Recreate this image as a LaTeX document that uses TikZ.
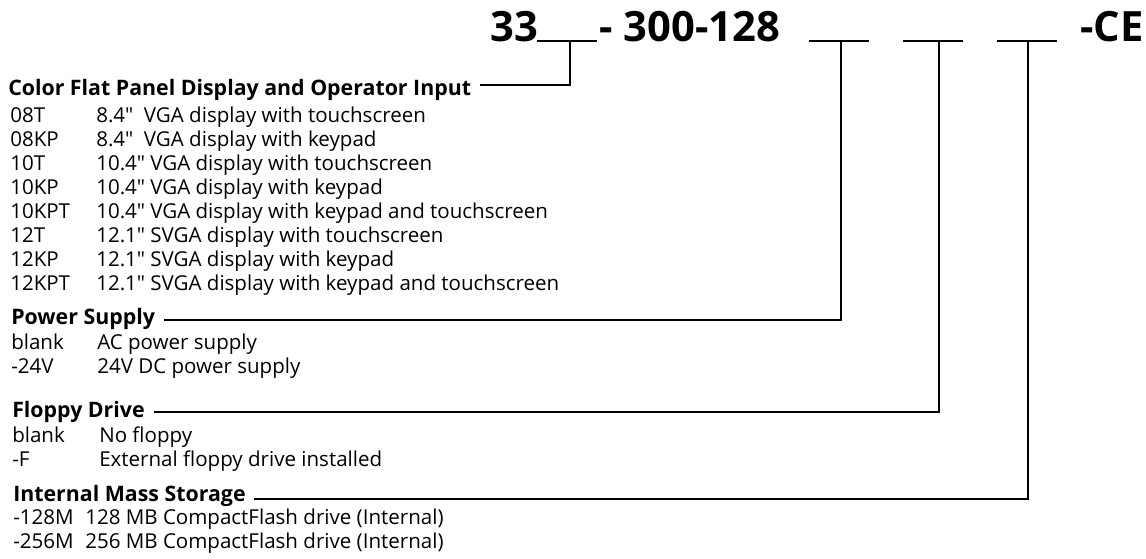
\documentclass[tikz,border=0pt]{standalone}
\usepackage{fontspec}
\setmainfont{Open Sans}
\begin{document}
\begin{tikzpicture}[x=0.75pt,y=-0.75pt,
  lbl/.style={inner sep=0pt, anchor=base west, font=\fontsize{15.4}{18}\selectfont},
  hd/.style={inner sep=0pt, anchor=base west, font=\fontsize{16}{18}\selectfont\bfseries},
  ttl/.style={inner sep=0pt, anchor=base west, font=\fontsize{31.3}{36}\selectfont\bfseries},
  ln/.style={line width=1.5pt, line join=miter}]
\useasboundingbox[fill=white] (0,0) rectangle (1146,559);
% title
\node[ttl] (t33) at (490,42) {33};
\node[ttl] (tmid) at (599,42) {- 300-128};
\node[ttl] (tce) at (1080,42) {-CE};
% blanks
\coordinate (b1w) at (537,41); \coordinate (b1e) at (597,41); \coordinate (b1) at (570,41);
\coordinate (b2w) at (809,41); \coordinate (b2e) at (869,41); \coordinate (b2) at (841,41);
\coordinate (b3w) at (903,41); \coordinate (b3e) at (963,41); \coordinate (b3) at (939,41);
\coordinate (b4w) at (997,41); \coordinate (b4e) at (1057,41); \coordinate (b4) at (1028,41);
\draw[ln] (b1w) -- (b1e);
\draw[ln] (b2w) -- (b2e);
\draw[ln] (b3w) -- (b3e);
\draw[ln] (b4w) -- (b4e);
% section 1
\node[hd] (h1) at (8,96) {Color Flat Panel Display and Operator Input};
\node[lbl] (c11) at (10,123) {08T};   \node[lbl] (d11) at (96,123) {8.4″\ \ VGA display with touchscreen};
\node[lbl] (c12) at (10,147) {08KP};  \node[lbl] (d12) at (96,147) {8.4″\ \ VGA display with keypad};
\node[lbl] (c13) at (10,171) {10T};   \node[lbl] (d13) at (96,171) {10.4″ VGA display with touchscreen};
\node[lbl] (c14) at (10,195) {10KP};  \node[lbl] (d14) at (96,195) {10.4″ VGA display with keypad};
\node[lbl] (c15) at (10,219) {10KPT}; \node[lbl] (d15) at (96,219) {10.4″ VGA display with keypad and touchscreen};
\node[lbl] (c16) at (10,243) {12T};   \node[lbl] (d16) at (96,243) {12.1″ SVGA display with touchscreen};
\node[lbl] (c17) at (10,267) {12KP};  \node[lbl] (d17) at (96,267) {12.1″ SVGA display with keypad};
\node[lbl] (c18) at (10,291) {12KPT}; \node[lbl] (d18) at (96,291) {12.1″ SVGA display with keypad and touchscreen};
% section 2
\node[hd] (h2) at (11,325) {Power Supply};
\node[lbl] (c21) at (11,350) {blank}; \node[lbl] (d21) at (97,350) {AC power supply};
\node[lbl] (c22) at (11,374) {-24V};  \node[lbl] (d22) at (97,374) {24V DC power supply};
% section 3
\node[hd] (h3) at (12,417) {Floppy Drive};
\node[lbl] (c31) at (12,442) {blank}; \node[lbl] (d31) at (99,442) {No floppy};
\node[lbl] (c32) at (12,466) {-F};    \node[lbl] (d32) at (99,466) {External floppy drive installed};
% section 4
\node[hd] (h4) at (13,501) {Internal Mass Storage};
\node[lbl] (c41) at (13,524) {-128M}; \node[lbl] (d41) at (85,524) {128 MB CompactFlash drive (Internal)};
\node[lbl] (c42) at (13,548) {-256M}; \node[lbl] (d42) at (85,548) {256 MB CompactFlash drive (Internal)};
% connectors
\path (h1.base east) ++(9,-11) coordinate (l1);
\path (h2.base east) ++(9,-5) coordinate (l2);
\path (h3.base east) ++(9,-5) coordinate (l3);
\path (h4.base east) ++(8,-2) coordinate (l4);
\draw[ln] (l1) -| (b1);
\draw[ln] (l2) -| (b2);
\draw[ln] (l3) -| (b3);
\draw[ln] (l4) -| (b4);
\end{tikzpicture}
\end{document}
